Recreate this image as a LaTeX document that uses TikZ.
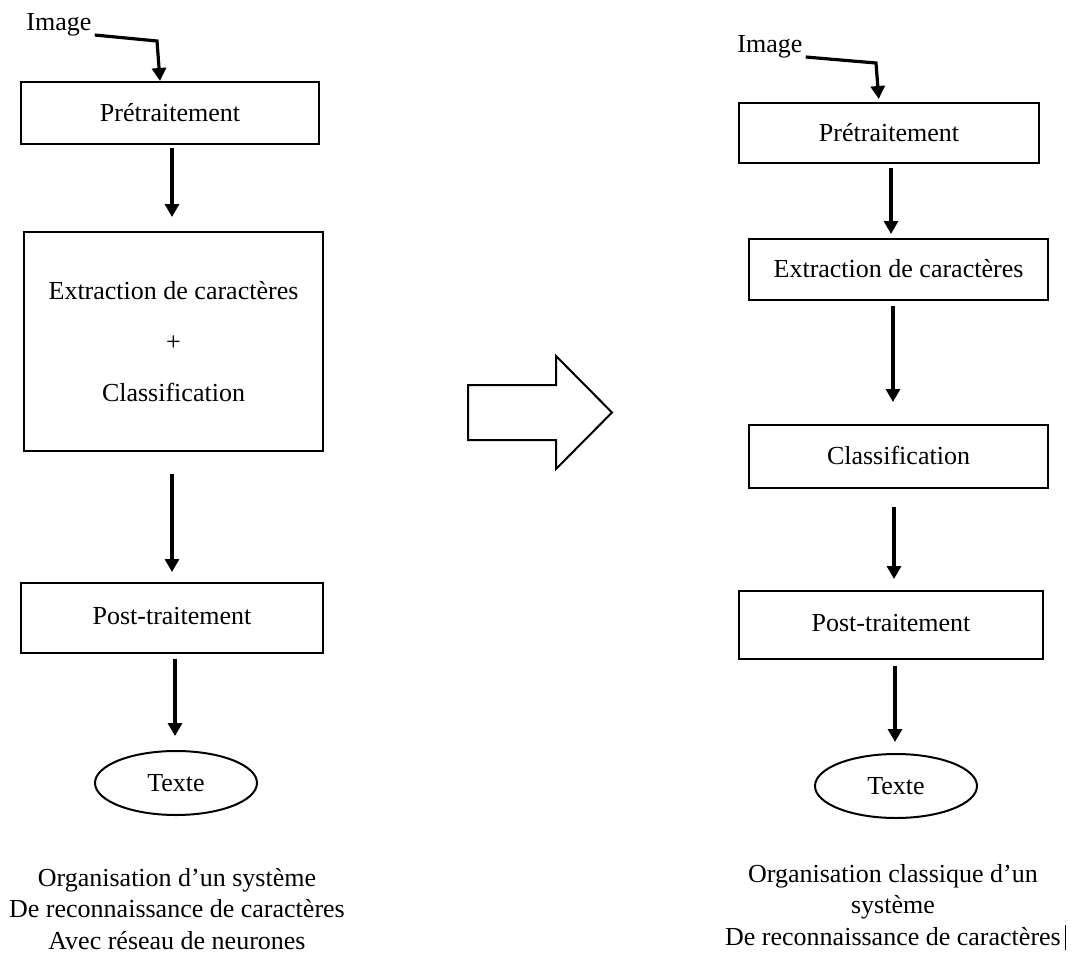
\documentclass[tikz,border=0pt]{standalone}
\usepackage{fontspec}
\setmainfont{Liberation Serif}
\usetikzlibrary{arrows.meta,shapes.geometric}
\begin{document}
\begin{tikzpicture}[x=0.5pt,y=-0.5pt,
  every node/.style={font=\fontsize{13}{15}\selectfont},
  stage/.style={draw, line width=1pt, rectangle, inner sep=0pt, align=center},
  outbox/.style={draw, ellipse, line width=1pt, inner sep=0pt,
                 minimum width=81pt, minimum height=32pt},
  flow/.style={line width=1.6pt, line join=miter, -{Triangle[length=6.5pt,width=7pt]}},
  legend/.style={align=center, inner sep=0pt, font=\fontsize{13}{15.75}\selectfont},
]
\useasboundingbox (0,0) rectangle (1073,954);

% ---------- left chain: neural network system ----------
\node[anchor=base west, inner sep=0pt] (imgL) at (26,30) {Image};
\node[stage, minimum width=149pt, minimum height=31pt] (L1) at (170,113) {Prétraitement};
\node[stage, minimum width=149.5pt, minimum height=109.5pt] (L2) at (173.5,341.5)
  {Extraction de caractères\\[10.5pt]+\\[10.5pt]Classification};
\node[stage, minimum width=151pt, minimum height=35pt] (L3) at (172,618)
  {\raisebox{2.5pt}{Post-traitement}};
\node[outbox] (L4) at (176,783) {Texte};

\coordinate (cL) at (157,41);
\draw[flow] ([xshift=1.5pt,yshift=0.5pt]imgL.south east) -- (cL) -- ([xshift=-5pt]L1.north);
\draw[flow, shorten <=1.5pt, shorten >=7pt] ([xshift=1pt]L1.south) -- ([xshift=-0.75pt]L2.north);
\draw[flow, shorten <=11pt, shorten >=5pt] ([xshift=-0.75pt]L2.south) -- (L3.north);
\draw[flow, shorten <=2.5pt, shorten >=7pt] ([xshift=1.5pt]L3.south) -- ([xshift=-0.5pt]L4.north);

\node[legend] (capL) at (177,909)
  {Organisation d’un système\\De reconnaissance de caractères\\Avec réseau de neurones};

% ---------- block arrow between the two chains ----------
\draw[line width=1pt, line join=miter]
  (468,385) -- (556,385) -- (556,356) -- (612,412.5) -- (556,469) -- (556,440) -- (468,440) -- cycle;

% ---------- right chain: classic system ----------
\node[anchor=base west, inner sep=0pt] (imgR) at (737,52) {Image};
\node[stage, minimum width=150pt, minimum height=30pt] (R1) at (889,133) {Prétraitement};
\node[stage, minimum width=149.5pt, minimum height=30.5pt] (R2) at (898.5,269.5)
  {\raisebox{1.5pt}{Extraction de caractères}};
\node[stage, minimum width=149.5pt, minimum height=31.5pt] (R3) at (898.5,456.5)
  {\raisebox{1.5pt}{Classification}};
\node[stage, minimum width=152pt, minimum height=34pt] (R4) at (891,625)
  {\raisebox{2.5pt}{Post-traitement}};
\node[outbox] (R5) at (896,786) {Texte};

\coordinate (cR) at (876,63);
\draw[flow, shorten >=1.5pt] ([xshift=1.5pt,yshift=0.5pt]imgR.south east) -- (cR) -- ([xshift=-5pt]R1.north);
\draw[flow, shorten <=2pt, shorten >=2pt] ([xshift=1pt]R1.south) -- ([xshift=-3.75pt]R2.north);
\draw[flow, shorten <=2.5pt, shorten >=11pt] ([xshift=-2.75pt]R2.south) -- ([xshift=-2.75pt]R3.north);
\draw[flow, shorten <=9pt, shorten >=5.5pt] ([xshift=-2.25pt]R3.south) -- ([xshift=1.5pt]R4.north);
\draw[flow, shorten <=3pt, shorten >=5.5pt] ([xshift=2pt]R4.south) -- ([xshift=-0.5pt]R5.north);

\node[legend] (capR) at (893,907)
  {Organisation classique d’un\\système\\De reconnaissance de caractères\rlap{\hspace{2pt}\rule[-2.5pt]{0.7pt}{12.5pt}}};
\end{tikzpicture}
\end{document}
